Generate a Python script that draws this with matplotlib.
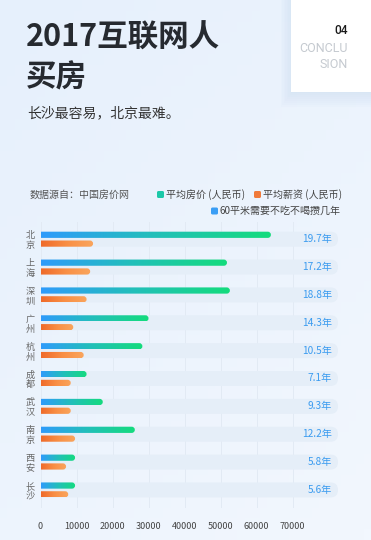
import numpy as np
import matplotlib
matplotlib.use('Agg')
import matplotlib.pyplot as plt
from matplotlib.patches import FancyBboxPatch, Rectangle
from matplotlib.colors import LinearSegmentedColormap

plt.rcParams['font.family'] = ['Noto Sans CJK SC', 'DejaVu Sans']

# data
cities = ['北京', '上海', '深圳', '广州', '杭州', '成都', '武汉', '南京', '西安', '长沙']
price = [64000, 51800, 52600, 30000, 28300, 12800, 17300, 26200, 9600, 9600]
salary = [14600, 13800, 12800, 9100, 12000, 8400, 8400, 9600, 7100, 7700]
years = [19.7, 17.2, 18.8, 14.3, 10.5, 7.1, 9.3, 12.2, 5.8, 5.6]
xticks = [0, 10000, 20000, 30000, 40000, 50000, 60000, 70000]

W, H = 371, 540
fig = plt.figure(figsize=(W / 100, H / 100), dpi=100)

def fx(x):
    return x / W

def fy(y):
    return 1 - y / H

# background gradient
bg = fig.add_axes([0, 0, 1, 1])
gx, gy = np.meshgrid(np.linspace(0, 1, 50), np.linspace(0, 1, 50))
g = 0.6 * gy + 0.4 * gx
bgcm = LinearSegmentedColormap.from_list('bg', ['#e6f0fc', '#f2f7fe'])
bg.imshow(g, cmap=bgcm, extent=[0, 1, 0, 1], aspect='auto', origin='upper')
bg.set_xlim(0, 1)
bg.set_ylim(0, 1)
bg.axis('off')

# white box top right with soft shadow
for i in range(8):
    bg.add_patch(Rectangle((fx(291 - i * 1.5), fy(93 + i * 2)), 1, (93 + i * 2) / H,
                           color='#c9dcef', alpha=0.07, lw=0))
bg.add_patch(Rectangle((fx(291), fy(92)), 1, 92 / H, color='white', lw=0))
fig.text(fx(348), fy(31), '04', ha='right', va='center', fontsize=8.5,
         color='#1a1a1a', family='Roboto', fontweight='medium')
fig.text(fx(348), fy(48), 'CONCLU', ha='right', va='center', fontsize=9,
         color='#c5cad0', family='Roboto')
fig.text(fx(348), fy(64), 'SION', ha='right', va='center', fontsize=9,
         color='#c5cad0', family='Roboto')

# titles
fig.text(fx(26), fy(38), '2017互联网人', ha='left', va='center', fontsize=22,
         fontweight='bold', color='#262a30')
fig.text(fx(26), fy(78), '买房', ha='left', va='center', fontsize=22,
         fontweight='bold', color='#262a30')
fig.text(fx(27), fy(113), '长沙最容易，北京最难。', ha='left', va='center',
         fontsize=10, color='#333333')

# legend
fig.text(fx(30), fy(195), '数据源自：中国房价网', ha='left', va='center',
         fontsize=7.2, color='#555555')
leg = [(157, 194.5, '#1cc8a8', '平均房价 (人民币)'),
       (254, 194.5, '#f07a3a', '平均薪资 (人民币)'),
       (211, 211, '#3a9ef5', '60平米需要不吃不喝攒几年')]
for lx, ly, c, t in leg:
    bg.add_patch(FancyBboxPatch((fx(lx), fy(ly + 3.5)), 7 / W, 7 / H,
                                boxstyle='round,pad=0,rounding_size=0.004',
                                mutation_aspect=W / H, color=c, lw=0))
    fig.text(fx(lx + 9), fy(ly), t, ha='left', va='center', fontsize=7.2,
             color='#444444')

# chart axes, positioned in pixels
x0px, x1px, ytop, ybot = 40.5, 345, 222, 508
pxx = 10000 / 36.0
rowpx = 27.86
ax = fig.add_axes([fx(x0px), fy(ybot), (x1px - x0px) / W, (ybot - ytop) / H])
ax.patch.set_alpha(0)
xmax = (x1px - x0px) * pxx
ylo = (ybot - 239.2) / rowpx
yhi = (ytop - 239.2) / rowpx
pxy = 1 / rowpx
asp = pxy / pxx

gcm = LinearSegmentedColormap.from_list('g', ['#2f9bfb', '#22c0b8', '#14dc7c'])
ocm = LinearSegmentedColormap.from_list('o', ['#ef6a2a', '#f98f45', '#f9a65e'])
grad = np.linspace(0, 1, 256).reshape(1, -1)

rows = np.arange(len(cities))
trackh = 15 * pxy
barh = 6.2 * pxy
off = 4.4 * pxy
for i in rows:
    tr = FancyBboxPatch((0 - 8 * pxx, i - trackh / 2), (338 - x0px + 8) * pxx, trackh,
                        boxstyle='round,pad=0,rounding_size=%f' % (7.5 * pxx),
                        mutation_aspect=asp, color='#e5eef8', lw=0, zorder=1)
    ax.add_patch(tr)
    for val, yc, cm in [(price[i], i - off, gcm), (salary[i], i + off, ocm)]:
        p = FancyBboxPatch((-4 * pxx, yc - barh / 2), val + 4 * pxx, barh,
                           boxstyle='round,pad=0,rounding_size=%f' % (3.1 * pxx),
                           mutation_aspect=asp, facecolor='none', lw=0, zorder=3)
        ax.add_patch(p)
        im = ax.imshow(grad, cmap=cm, extent=[0, val, yc + barh / 2, yc - barh / 2],
                       aspect='auto', zorder=3)
        im.set_clip_path(p)
    ax.text((332 - x0px) * pxx, i, '%.1f年' % years[i], ha='right', va='center',
            fontsize=7.3, color='#3a9bf0', zorder=4)

ax.set_xlim(0, xmax)
ax.set_ylim(ylo, yhi)
ax.set_xticks(xticks)
ax.set_xticklabels([str(v) for v in xticks], fontsize=6.5, color='#444444')
ax.set_yticks(rows)
ax.set_yticklabels(['\n'.join(c) for c in cities], fontsize=6.6, color='#666666',
                   linespacing=1.12)
ax.tick_params(length=0, pad=4)
ax.tick_params(axis='x', pad=10)
ax.grid(axis='x', color='#e2eaf4', lw=0.7, zorder=0)
ax.set_axisbelow(True)
for s in ax.spines.values():
    s.set_visible(False)

fig.savefig('out.png', dpi=100)
